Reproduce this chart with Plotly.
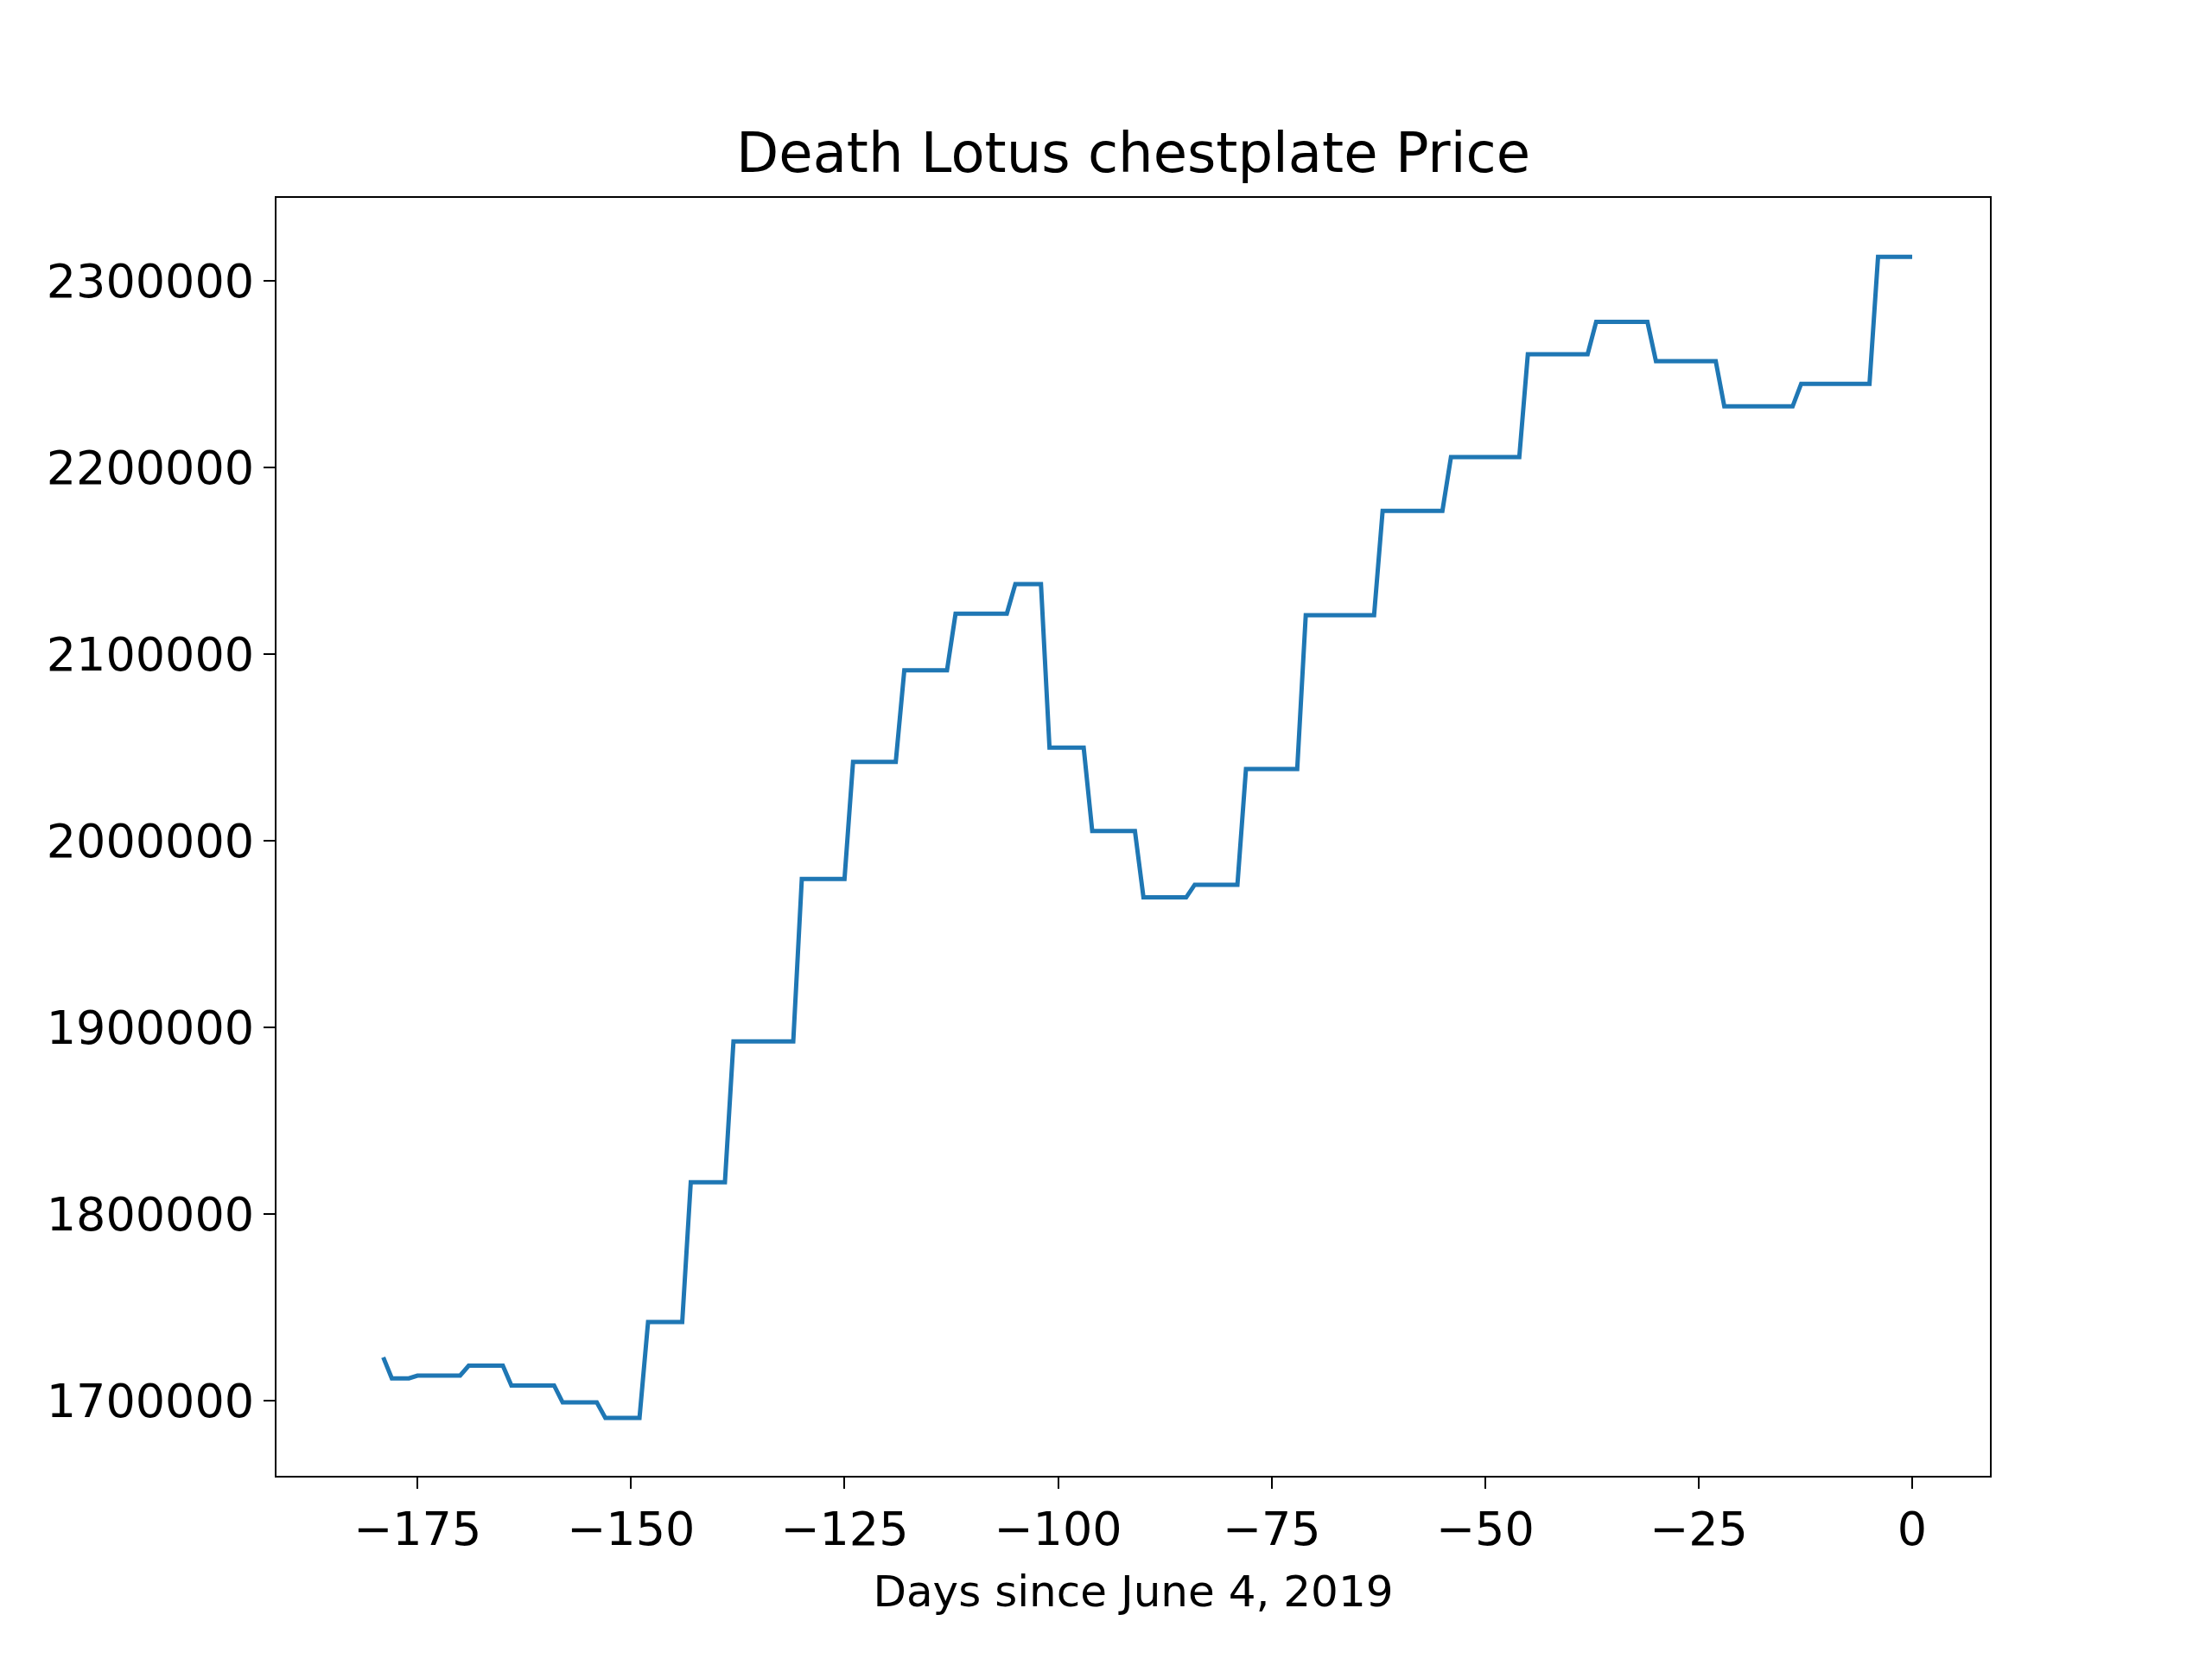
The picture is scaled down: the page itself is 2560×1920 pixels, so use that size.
import plotly.graph_objects as go

# price step vertices
days = [-179, -178, -176, -175, -170, -169, -165, -164, -159, -158, -154, -153,
        -149, -148, -144, -143, -139, -138, -131, -130, -125, -124, -119, -118,
        -113, -112, -106, -105, -102, -101, -97, -96, -91, -90, -85, -84, -79,
        -78, -72, -71, -63, -62, -55, -54, -46, -45, -38, -37, -31, -30, -23,
        -22, -14, -13, -5, -4, 0]
prices = [1723400, 1712100, 1712100, 1713600, 1713600, 1718900, 1718900, 1708300,
          1708300, 1699200, 1699200, 1690900, 1690900, 1742300, 1742300, 1817200,
          1817200, 1892700, 1892700, 1979700, 1979700, 2042400, 2042400, 2091500,
          2091500, 2121800, 2121800, 2137700, 2137700, 2050000, 2050000, 2005400,
          2005400, 1969800, 1969800, 1976600, 1976600, 2038600, 2038600, 2121000,
          2121000, 2176900, 2176900, 2205700, 2205700, 2260800, 2260800, 2278200,
          2278200, 2257100, 2257100, 2232900, 2232900, 2245000, 2245000, 2313000,
          2313000]

x_ticks = [-175, -150, -125, -100, -75, -50, -25, 0]
y_ticks = [1700000, 1800000, 1900000, 2000000, 2100000, 2200000, 2300000]

fig = go.Figure()
fig.add_trace(go.Scatter(x=days, y=prices, mode="lines",
                         line=dict(color="#1f77b4", width=5)))

axis_common = dict(showgrid=False, zeroline=False, showline=True, mirror=True,
                   linecolor="black", linewidth=2, ticks="outside", ticklen=13,
                   tickwidth=2, tickcolor="black", tickfont=dict(size=54))

fig.update_layout(
    width=2560, height=1920,
    paper_bgcolor="white", plot_bgcolor="white",
    font=dict(family="DejaVu Sans", size=46, color="black"),
    margin=dict(l=312, r=265, t=221, b=220),
    showlegend=False,
    title=dict(text="Death Lotus chestplate Price", x=0.5, xref="paper",
               xanchor="center", y=0.912, yanchor="middle", font=dict(size=64)),
    xaxis=dict(range=[-191.5, 9.1], tickvals=x_ticks,
               ticktext=[str(v).replace("-", "\u2212") for v in x_ticks],
               title=dict(text="Days since June 4, 2019", standoff=24,
                          font=dict(size=50)),
               **axis_common),
    yaxis=dict(range=[1659900, 2344600], tickvals=y_ticks,
               ticktext=[str(v) for v in y_ticks], **axis_common),
)

fig.write_html("out.html")
